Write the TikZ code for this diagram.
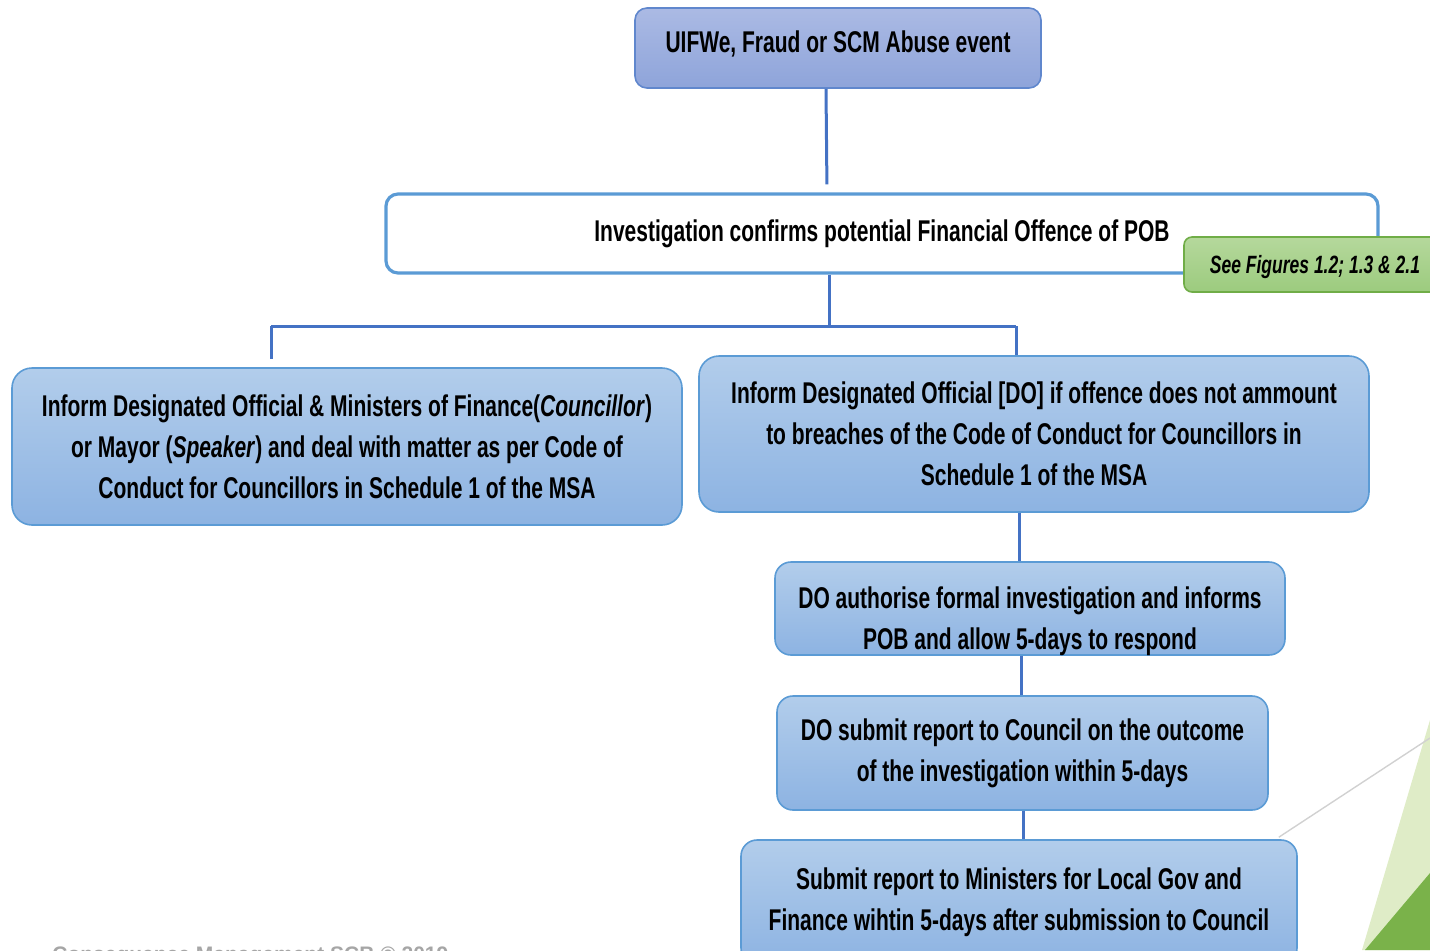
\documentclass[tikz,border=0pt]{standalone}
\usepackage{fontspec}
\usetikzlibrary{calc}
\setmainfont{Liberation Sans}[FakeStretch=0.7]
\newfontfamily\footfont{Liberation Sans}
\definecolor{linkblue}{HTML}{4472C4}
\definecolor{edgeblue}{HTML}{5B9BD5}
\definecolor{boxtop}{HTML}{B2CDEB}
\definecolor{boxbot}{HTML}{8DB3E2}
\definecolor{headtop}{HTML}{ABBAE4}
\definecolor{headbot}{HTML}{8EA4DA}
\definecolor{tagtop}{HTML}{B5D89C}
\definecolor{tagbot}{HTML}{9CCB7E}
\definecolor{tagedge}{HTML}{70AD47}
\definecolor{lightgreen}{HTML}{DFECC7}
\definecolor{darkgreen}{HTML}{7AB24A}
\definecolor{footgrey}{HTML}{A6A6A6}
\tikzset{
  txt/.style={font=\bfseries\fontsize{15}{20.5}\selectfont, align=center, text=black, inner sep=0pt},
  flowbox/.style={txt, draw=edgeblue, line width=0.8pt, top color=boxtop, bottom color=boxbot, rounded corners=10pt},
  headbox/.style={txt, draw=linkblue!85, line width=0.8pt, top color=headtop, bottom color=headbot, rounded corners=6pt},
  whitebox/.style={txt, draw=edgeblue, line width=1.6pt, fill=white, rounded corners=6pt},
  tagbox/.style={draw=tagedge, line width=0.8pt, top color=tagtop, bottom color=tagbot, rounded corners=4pt, inner sep=0pt},
  link/.style={draw=linkblue, line width=1.5pt},
}
\begin{document}
\begin{tikzpicture}[x=0.5pt, y=-0.5pt]
\useasboundingbox (0,0) rectangle (1430,950);

% corner decoration
\fill[lightgreen] (1430,720) -- (1430,950) -- (1362,950) -- cycle;
\fill[darkgreen] (1430,873) -- (1430,950) -- (1365,950) -- cycle;

% boxes
\node[headbox, minimum width=203pt, minimum height=40pt] (event) at (838,48)
  {\raisebox{-2.25pt}[0pt][0pt]{UIFWe, Fraud or SCM Abuse event}};
\node[whitebox, minimum width=496pt, minimum height=39.5pt] (inv) at (882,233.5)
  {\raisebox{2pt}{Investigation confirms potential Financial Offence of POB}};
\node[tagbox, minimum width=128pt, minimum height=27.5pt] (tag) at (1312,264.5) {};
\node[font=\bfseries\itshape\fontsize{12.5}{15}\selectfont, inner sep=0pt] (tagtext) at (1315,267)
  {See Figures 1.2; 1.3 \& 2.1};
\node[flowbox, minimum width=335pt, minimum height=78.5pt] (left) at (347,446.5)
  {Inform Designated Official \& Ministers of Finance(\textit{Councillor})\\
   or Mayor (\textit{Speaker}) and deal with matter as per Code of\\
   Conduct for Councillors in Schedule 1 of the MSA};
\node[flowbox, minimum width=335pt, minimum height=78pt] (right) at (1034,434)
  {Inform Designated Official [DO] if offence does not ammount\\
   to breaches of the Code of Conduct for Councillors in\\
   Schedule 1 of the MSA};
\node[flowbox, rounded corners=8pt, minimum width=255pt, minimum height=46.5pt] (auth) at (1030,608.5)
  {\raisebox{-9.5pt}[0pt][0pt]{\begin{tabular}{@{}c@{}}DO authorise formal investigation and informs\\
   POB and allow 5-days to respond\end{tabular}}};
\node[flowbox, rounded corners=8pt, minimum width=245.5pt, minimum height=57pt] (report) at (1022.5,753)
  {DO submit report to Council on the outcome\\
   of the investigation within 5-days};
\node[flowbox, rounded corners=8pt, minimum width=278pt, minimum height=62pt] (minister) at (1019,902)
  {\raisebox{2pt}{\begin{tabular}{@{}c@{}}Submit report to Ministers for Local Gov and\\
   Finance wihtin 5-days after submission to Council\end{tabular}}};

% grey guide line running off to the corner
\coordinate (edgept) at (1430,738);
\draw[black!18, line width=0.7pt] ($(minister.north east)+(-19,-2)$) -- (edgept);

% connectors
\coordinate (bus) at (829,326);
\draw[link, shorten >=4pt] (event.south -| 826,0) -- (inv.north -| 827,0);
\draw[link] (inv.south -| bus) -- (bus);
\draw[link] (bus -| 271,0) -- (bus -| 1016,0);
\draw[link, shorten >=4pt] (bus -| 271,0) -- (left.north -| 271,0);
\draw[link] (bus -| 1016,0) -- (right.north -| 1016,0);
\draw[link] (right.south -| 1019,0) -- (auth.north -| 1019,0);
\draw[link] (auth.south -| 1021,0) -- (report.north -| 1021,0);
\draw[link] (report.south -| 1023,0) -- (minister.north -| 1023,0);

% footer, mostly below the page edge
\node[anchor=base west, inner sep=0pt, text=footgrey, font=\footfont\bfseries\fontsize{10.5}{12}\selectfont] (footer) at (52,961)
  {Consequence Management SCB \textcopyright{} 2019};
\end{tikzpicture}
\end{document}
